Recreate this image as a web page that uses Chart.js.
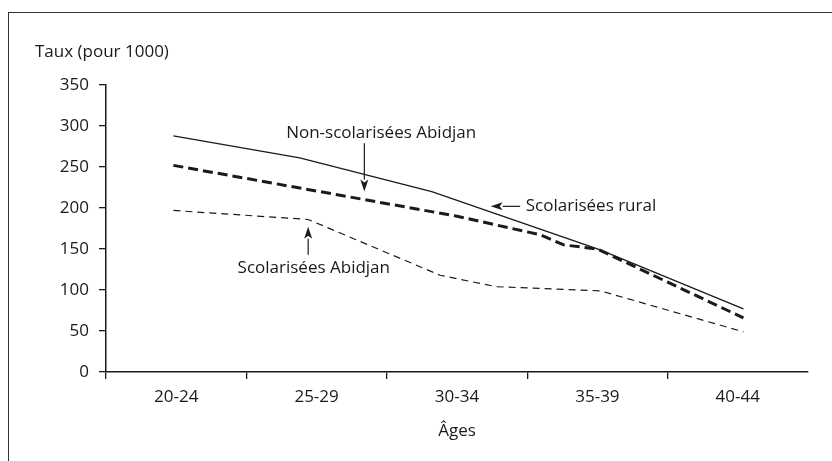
<!DOCTYPE html>
<html>
<head>
<meta charset="utf-8">
<script src="https://cdn.jsdelivr.net/npm/chart.js@4"></script>
<style>
  body { margin: 0; background: #fff; }
  #wrap { position: relative; width: 832px; height: 461px; overflow: hidden; }
  #frame { position: absolute; left: 8px; top: 12px; right: -2px; bottom: -2px;
           border-left: 1px solid #333; border-top: 1px solid #333; }
  canvas { position: absolute; left: 0; top: 0; }
</style>
</head>
<body>
<div id="wrap">
  <div id="frame"></div>
  <canvas id="chart" width="832" height="461"></canvas>
</div>
<script>
// age groups shown under the x axis
const ageGroups = ["20-24", "25-29", "30-34", "35-39", "40-44"];

// Scolarisées rural (solid line)
const ruralAges = [22.4, 26.9, 31.6, 37.6, 42.7];
const ruralRates = [288, 261, 220, 149, 77];

// Non-scolarisées Abidjan (thick dashed)
const nonScolAges = [22.4, 32.5, 35.5, 36.3, 37.5, 42.7];
const nonScolRates = [252, 190, 167, 155, 150, 66];

// Scolarisées Abidjan (thin dashed)
const scolAbjAges = [22.4, 27.2, 31.9, 33.9, 37.6, 42.7];
const scolAbjRates = [197, 186, 118, 104, 99, 49];

const ink = "#1a1a1a";
const fontFamily = "'Open Sans', 'Noto Sans', sans-serif";
const fontSize = 17;

const toPoints = (xs, ys) => xs.map((a, i) => ({ x: a, y: ys[i] }));

// labels with arrows, placed in data units (age, rate)
const notes = [
  { text: "Non-scolarisées Abidjan", tx: 29.8, ty: 291, align: "center",
    from: [29.2, 279], to: [29.2, 220] },
  { text: "Scolarisées rural", tx: 34.95, ty: 202, align: "left",
    from: [34.75, 202], to: [33.7, 202] },
  { text: "Scolarisées Abidjan", tx: 27.4, ty: 127, align: "center",
    from: [27.2, 143], to: [27.2, 177] },
];

const drawArrow = (ctx, x0, y0, x1, y1) => {
  const ang = Math.atan2(y1 - y0, x1 - x0);
  const len = 12, half = 4;
  const bx = x1 - len * Math.cos(ang), by = y1 - len * Math.sin(ang);
  ctx.beginPath();
  ctx.moveTo(x0, y0);
  ctx.lineTo(bx, by);
  ctx.stroke();
  ctx.beginPath();
  ctx.moveTo(x1, y1);
  ctx.lineTo(bx + half * Math.sin(ang), by - half * Math.cos(ang));
  ctx.lineTo(bx + 3 * Math.cos(ang), by + 3 * Math.sin(ang));
  ctx.lineTo(bx - half * Math.sin(ang), by + half * Math.cos(ang));
  ctx.closePath();
  ctx.fill();
};

const textPlugin = {
  id: "texts",
  afterDraw(chart) {
    const { ctx, chartArea } = chart;
    const x = chart.scales.x, y = chart.scales.y;
    ctx.save();
    ctx.fillStyle = ink;
    ctx.strokeStyle = ink;
    ctx.lineWidth = 1.2;
    ctx.font = fontSize + "px " + fontFamily;
    ctx.textBaseline = "middle";

    ctx.textAlign = "left";
    ctx.fillText("Taux (pour 1000)", chartArea.left - 71, chartArea.top - 33);
    ctx.textAlign = "center";
    ctx.fillText("Âges", (chartArea.left + chartArea.right) / 2, chartArea.bottom + 59);

    for (const n of notes) {
      ctx.textAlign = n.align;
      ctx.fillText(n.text, x.getPixelForValue(n.tx), y.getPixelForValue(n.ty));
      drawArrow(ctx,
        x.getPixelForValue(n.from[0]), y.getPixelForValue(n.from[1]),
        x.getPixelForValue(n.to[0]), y.getPixelForValue(n.to[1]));
    }
    ctx.restore();
  },
};

new Chart(document.getElementById("chart"), {
  type: "line",
  data: {
    datasets: [
      {
        label: "Scolarisées rural",
        data: toPoints(ruralAges, ruralRates),
        borderColor: ink,
        borderWidth: 1.3,
      },
      {
        label: "Non-scolarisées Abidjan",
        data: toPoints(nonScolAges, nonScolRates),
        borderColor: ink,
        borderWidth: 3,
        borderDash: [10, 5],
      },
      {
        label: "Scolarisées Abidjan",
        data: toPoints(scolAbjAges, scolAbjRates),
        borderColor: ink,
        borderWidth: 1.2,
        borderDash: [7, 5],
      },
    ],
  },
  options: {
    responsive: false,
    animation: false,
    devicePixelRatio: 1,
    layout: { padding: { top: 85, right: 24, left: 0, bottom: 0 } },
    elements: { point: { radius: 0 }, line: { tension: 0 } },
    plugins: { legend: { display: false }, tooltip: { enabled: false } },
    scales: {
      x: { type: "linear", min: 20, max: 45, display: false },
      xc: {
        type: "category",
        labels: ageGroups,
        position: "bottom",
        offset: true,
        grid: {
          offset: true,
          drawOnChartArea: false,
          tickLength: 7,
          lineWidth: 1.3,
          color: (c) => (c.type === "tick" ? ink : "rgba(0,0,0,0)"),
        },
        border: { color: ink, width: 1.5 },
        ticks: { color: ink, padding: 8, font: { family: fontFamily, size: fontSize } },
        afterFit: (s) => { s.height = 89; },
      },
      y: {
        min: 0,
        max: 350,
        grid: { drawOnChartArea: false, tickLength: 7, lineWidth: 1.3, color: ink },
        border: { color: ink, width: 1.5 },
        ticks: { stepSize: 50, color: ink, padding: 10, font: { family: fontFamily, size: fontSize } },
        afterFit: (s) => { s.width = 106; },
      },
    },
  },
  plugins: [textPlugin],
});
</script>
</body>
</html>
